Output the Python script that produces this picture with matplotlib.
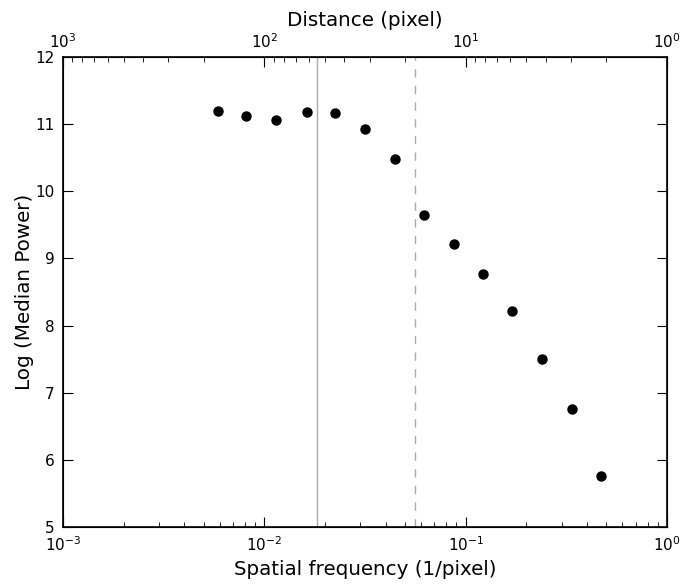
import matplotlib
matplotlib.use("Agg")
import matplotlib.pyplot as plt

freq = [0.00589, 0.00811, 0.01143, 0.0163, 0.0224, 0.0316, 0.0446, 0.0621,
        0.0875, 0.122, 0.170, 0.239, 0.338, 0.471]
log_power = [11.2, 11.12, 11.06, 11.18, 11.17, 10.93, 10.48, 9.65,
             9.21, 8.77, 8.22, 7.50, 6.76, 5.76]
solid_line_x = 0.0183
dashed_line_x = 0.0561

plt.rcParams['font.family'] = ['DejaVu Sans']
fig = plt.figure(figsize=(6.83, 5.85), dpi=100)
ax = fig.add_axes([0.0922, 0.0991, 0.8844, 0.8035])

ax.plot(freq, log_power, 'o', color='black', markersize=6.5, zorder=3)
ax.axvline(solid_line_x, color='#aaaaaa', lw=1.0, linestyle='-')
ax.axvline(dashed_line_x, color='#aaaaaa', lw=1.0, linestyle=(0, (6, 6)))

ax.set_xscale('log')
ax.set_xlim(1e-3, 1e0)
ax.set_ylim(5, 12)
ax.set_xlabel('Spatial frequency (1/pixel)', fontsize=14.3, labelpad=4)
ax.set_ylabel('Log (Median Power)', fontsize=14.3, labelpad=1)

for s in ax.spines.values():
    s.set_linewidth(1.2)

ax.tick_params(which='both', direction='in', top=False, right=True, labelsize=11)
ax.tick_params(which='major', length=7)
ax.tick_params(axis='x', which='major', pad=6)
ax.tick_params(axis='y', which='major', pad=6)
ax.tick_params(which='minor', length=3.5)

ax2 = ax.twiny()
ax2.set_xscale('log')
ax2.set_xlim(1e3, 1e0)
ax2.set_xlabel('Distance (pixel)', fontsize=14.3, labelpad=5)
ax2.tick_params(which='both', direction='in', labelsize=11)
ax2.tick_params(which='major', length=7, pad=4)
ax2.tick_params(which='minor', length=3.5)

fig.savefig('out.png', dpi=100)
